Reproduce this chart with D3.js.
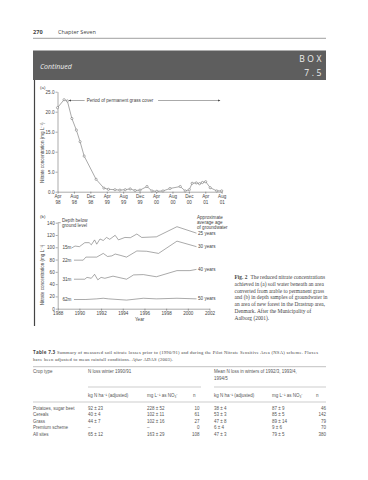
<!DOCTYPE html>
<html lang="en">
<head>
<meta charset="utf-8">
<title>Box 7.5 continued</title>
<script src="https://cdn.jsdelivr.net/npm/d3@7"></script>
<style>
body { margin: 0; background: #fff; }
svg text { font-family: "Liberation Sans", Arial, sans-serif; fill: #444; }
.axis path, .axis line { stroke: #555; stroke-width: 0.5; }
.axis text { font-size: 4.6px; fill: #444; }
.serif { font-family: "Liberation Serif", "DejaVu Serif", serif !important; }
.page { font-family: "Open Sans", "Noto Sans", sans-serif !important; }
</style>
</head>
<body>
<script>
// ---- data (a): soil water, months counted from April 1998
var tickMonths = [0, 4, 8, 12, 16, 20, 24, 28, 32, 36, 40];
var monthLabels = ["Apr", "Aug", "Dec", "Apr", "Aug", "Dec", "Apr", "Aug", "Dec", "Apr", "Aug"];
var yearLabels = ["98", "98", "98", "99", "99", "99", "00", "00", "00", "01", "01"];
var soilTicks = [0, 5, 10, 15, 20, 25];
var soilMonths = [0, 1.6, 2.4, 3.5, 4.6, 5.5, 6.5, 9.4, 11.3, 12.4, 14, 15.2, 16.5, 17.7, 18.9, 20.1, 21.8, 23, 24.2, 25.7, 27.4, 29.9, 31.1, 32.1, 32.8, 33.8, 34.6, 35.3, 36.1, 37.2, 38.8, 40];
var soilNitrate = [21, 23, 22.7, 18.3, 15.4, 12.5, 8.9, 3.1, 0.9, 0.6, 0.5, 0.4, 0.5, 0.7, 0.3, 0.4, 1.3, 0.2, 0.1, 0.2, 0.8, 1.3, 0.2, 0.5, 2.1, 2.2, 2.0, 2.3, 2.5, 1.0, 0.2, 0.2];

// ---- data (b): groundwater by depth
var gwTicksX = [1988, 1990, 1992, 1994, 1996, 1998, 2000, 2002];
var gwTicksY = [0, 20, 40, 60, 80, 100, 120, 140];
var depths = ["15m", "22m", "31m", "62m"];
var ages = ["25 years", "30 years", "40 years", "50 years"];
var years15 = [1989.3, 1989.6, 1990.0, 1990.5, 1990.9, 1991.1, 1991.4, 1991.6, 1991.9, 1992.2, 1992.5, 1992.8, 1993.3, 1993.6, 1994.2, 1994.7, 1995.3, 1995.75, 1997.1, 1999.0, 2000.8];
var gw15 = [99, 102, 101, 107.5, 107.5, 104, 112, 105, 113.5, 111, 116, 113, 119.5, 112, 116, 115.6, 121.6, 116, 117, 133.5, 123];
var years22 = [1989.5, 1990.35, 1990.6, 1991.6, 1992.2, 1992.6, 1993.0, 1993.3, 1993.75, 1994.35, 1995.3, 1996.2, 1997.3, 1999.0, 2000.8];
var gw22 = [79, 79, 84, 84, 90, 85, 86, 89, 87, 84, 94, 93.5, 90, 110, 101];
var years31 = [1989.5, 1990.5, 1990.7, 1991.1, 1991.4, 1991.7, 1992.0, 1992.35, 1993.1, 1994.35, 1995.0, 1995.9, 1997.1, 1999.0, 2000.2, 2000.8];
var gw31 = [48, 48, 51, 49.5, 56, 47, 51, 49.5, 53, 48, 55, 55.5, 52, 62, 62, 64];
var years62 = [1989.5, 1990.6, 1991.6, 1992.2, 1992.7, 1994.35, 1995.9, 1997.1, 1999.0, 2000.8];
var gw62 = [15, 15, 16, 17, 16, 14, 17, 16, 17, 16];

// ---- table 7.3
var crops = ["Potatoes, sugar beet", "Cereals", "Grass", "Premium scheme", "All sites"];
var loss9091 = ["92 ± 23", "40 ± 4", "44 ± 7", "–", "65 ± 12"];
var conc9091 = ["228 ± 52", "102 ± 11", "102 ± 16", "–", "163 ± 29"];
var n9091 = ["10", "61", "27", "0", "108"];
var lossNSA = ["38 ± 4", "53 ± 3", "47 ± 8", "6 ± 4", "47 ± 3"];
var concNSA = ["87 ± 9", "85 ± 5", "89 ± 14", "9 ± 6", "79 ± 5"];
var nNSA = ["46", "142", "79", "70", "380"];

var svg = d3.select("body").append("svg")
    .attr("width", 368)
    .attr("height", 480);

// page header
svg.append("text").attr("class", "page").attr("x", 33).attr("y", 33.5)
    .style("font-size", "5.6px").style("font-weight", "bold").text("270");
svg.append("text").attr("class", "page").attr("x", 58).attr("y", 33.5)
    .style("font-size", "5.6px").text("Chapter Seven");
svg.append("line").attr("x1", 33).attr("x2", 326).attr("y1", 38.3).attr("y2", 38.3)
    .style("stroke", "#888").style("stroke-width", 0.8);

// box header
svg.append("rect").attr("x", 33).attr("y", 50.5).attr("width", 293).attr("height", 29.5)
    .style("fill", "#5e5e5e");
svg.append("text").attr("class", "page").attr("x", 40).attr("y", 68.5)
    .style("font-size", "7px").style("font-style", "italic").style("fill", "#eee").text("Continued");
svg.append("text").attr("class", "page").attr("x", 324).attr("y", 62).attr("text-anchor", "end")
    .style("font-size", "8.5px").style("fill", "#eee").style("letter-spacing", "2.6px").text("BOX");
svg.append("text").attr("class", "page").attr("x", 324).attr("y", 76).attr("text-anchor", "end")
    .style("font-size", "8.5px").style("fill", "#eee").style("letter-spacing", "2.6px").text("7.5");
svg.append("line").attr("x1", 34.5).attr("x2", 34.5).attr("y1", 80).attr("y2", 326)
    .style("stroke", "#444").style("stroke-width", 1.2);

// ---------- chart (a)
var xA = d3.scaleLinear().domain([0, 40]).range([57.5, 221.7]);
var yA = d3.scaleLinear().domain([0, 25]).range([191.7, 91.7]);

svg.append("text").attr("x", 40).attr("y", 89).style("font-size", "4.4px").text("(a)");

svg.append("g").attr("class", "axis").attr("transform", "translate(" + xA(0) + ",0)")
    .call(d3.axisLeft(yA).tickValues(soilTicks).tickFormat(d3.format(".1f")).tickSize(2).tickSizeOuter(0).tickPadding(1));

svg.append("g").attr("class", "axis").attr("transform", "translate(0," + yA(0) + ")")
    .call(d3.axisBottom(xA).tickValues(tickMonths).tickSize(2).tickSizeOuter(0).tickPadding(1.5))
    .selectAll(".tick text").text(null).each(function(d, i) {
        var t = d3.select(this);
        t.append("tspan").attr("x", 0).text(monthLabels[i]);
        t.append("tspan").attr("x", 0).attr("dy", "1.1em").text(yearLabels[i]);
    });

svg.append("text").attr("transform", "translate(44," + (yA(10) + 1) + ") rotate(-90)")
    .attr("text-anchor", "middle").style("font-size", "4.6px").text("Nitrate concentration (mg L⁻¹)");

var soil = soilMonths.map(function(m, i) { return {m: m, v: soilNitrate[i]}; });
svg.append("path").datum(soil)
    .attr("d", d3.line().x(function(d) { return xA(d.m); }).y(function(d) { return yA(d.v); }))
    .style("fill", "none").style("stroke", "#555").style("stroke-width", 0.5);
svg.selectAll(".dot").data(soil).enter().append("circle")
    .attr("class", "dot").attr("r", 1.1)
    .attr("cx", function(d) { return xA(d.m); })
    .attr("cy", function(d) { return yA(d.v); })
    .style("fill", "#fff").style("stroke", "#555").style("stroke-width", 0.45);

// grass cover arrow
var arrowY = yA(22.8);
svg.append("line").attr("x1", xA(2.8)).attr("x2", xA(6.6)).attr("y1", arrowY).attr("y2", arrowY)
    .style("stroke", "#555").style("stroke-width", 0.5);
svg.append("path").attr("d", "M" + xA(2.7) + "," + arrowY + "l2.4,-0.9v1.8z").style("fill", "#444");
svg.append("text").attr("x", xA(7.1)).attr("y", arrowY + 1.6).style("font-size", "4.6px").text("Period of permanent grass cover");
svg.append("line").attr("x1", xA(24.5)).attr("x2", xA(39.5)).attr("y1", arrowY).attr("y2", arrowY)
    .style("stroke", "#555").style("stroke-width", 0.5);
svg.append("path").attr("d", "M" + xA(39.7) + "," + arrowY + "l-2.4,-0.9v1.8z").style("fill", "#444");

// ---------- chart (b)
var xB = d3.scaleLinear().domain([1988, 2002]).range([57.7, 209.5]);
var yB = d3.scaleLinear().domain([0, 140]).range([308.7, 222.7]);

svg.append("text").attr("x", 40).attr("y", 217.5).style("font-size", "4.4px").text("(b)");

svg.append("g").attr("class", "axis").attr("transform", "translate(" + xB(1988) + ",0)")
    .call(d3.axisLeft(yB).tickValues(gwTicksY).tickSize(2).tickSizeOuter(0).tickPadding(1));
svg.append("line").attr("x1", xB(1988)).attr("x2", xB(1988) + 3).attr("y1", yB(140)).attr("y2", yB(140))
    .style("stroke", "#555").style("stroke-width", 0.5);

svg.append("g").attr("class", "axis").attr("transform", "translate(0," + yB(0) + ")")
    .call(d3.axisBottom(xB).tickValues(gwTicksX).tickFormat(d3.format("d")).tickSize(2).tickSizeOuter(0).tickPadding(1.5));

svg.append("text").attr("x", (xB(1988) + xB(2002)) / 2 + 6).attr("y", 321).attr("text-anchor", "middle")
    .style("font-size", "4.6px").text("Year");
svg.append("text").attr("transform", "translate(44," + (yB(55)) + ") rotate(-90)")
    .attr("text-anchor", "middle").style("font-size", "4.6px").text("Nitrate concentration (mg L⁻¹)");

svg.append("text").attr("x", 62).attr("y", 221.6).style("font-size", "4.6px").text("Depth below");
svg.append("text").attr("x", 62).attr("y", 227.4).style("font-size", "4.6px").text("ground level");
["Approximate", "average age", "of groundwater"].forEach(function(s, i) {
    svg.append("text").attr("x", 197).attr("y", 219 + i * 4.8).style("font-size", "4.6px").text(s);
});

var gwSeries = [
    {years: years15, vals: gw15},
    {years: years22, vals: gw22},
    {years: years31, vals: gw31},
    {years: years62, vals: gw62}
];
var gwLine = d3.line().x(function(d) { return xB(d[0]); }).y(function(d) { return yB(d[1]); });
gwSeries.forEach(function(s, k) {
    var pts = s.years.map(function(y, i) { return [y, s.vals[i]]; });
    svg.append("path").datum(pts).attr("d", gwLine)
        .style("fill", "none").style("stroke", "#555").style("stroke-width", 0.5);
    svg.append("text").attr("x", 62.5).attr("y", yB(s.vals[0]) + 1.6)
        .style("font-size", "4.6px").text(depths[k]);
    svg.append("text").attr("x", 198).attr("y", yB(s.vals[s.vals.length - 1]) + 1.6)
        .style("font-size", "4.6px").text(ages[k]);
});

// caption
var caption = [
    "The reduced nitrate concentrations",
    "achieved in (a) soil water beneath an area",
    "converted from arable to permanent grass",
    "and (b) in depth samples of groundwater in",
    "an area of new forest in the Drastrup area,",
    "Denmark. After the Municipality of",
    "Aalborg (2001)."
];
caption.forEach(function(s, i) {
    var t = svg.append("text").attr("class", "serif").attr("x", 234.5).attr("y", 279 + i * 6.8)
        .style("font-size", "5.4px");
    if (i === 0) {
        t.append("tspan").style("font-weight", "bold").text("Fig. 2");
        t.append("tspan").attr("dx", 3).text(s);
    } else {
        t.text(s);
    }
});

// ---------- table 7.3
var tt = svg.append("text").attr("class", "serif").attr("x", 33).attr("y", 353.5)
    .attr("textLength", 285).attr("lengthAdjust", "spacing")
    .style("font-size", "4.6px");
tt.append("tspan").attr("class", "page").style("font-weight", "bold").text("Table 7.3");
tt.append("tspan").text("  Summary of measured soil nitrate losses prior to (1990/91) and during the Pilot Nitrate Sensitive Area (NSA) scheme. Fluxes");
var tt2 = svg.append("text").attr("class", "serif").attr("x", 33).attr("y", 361)
    .attr("textLength", 140).attr("lengthAdjust", "spacing")
    .style("font-size", "4.6px");
tt2.append("tspan").text("have been adjusted to mean rainfall conditions. ");
tt2.append("tspan").style("font-style", "italic").text("After");
tt2.append("tspan").text(" ADAS (2003).");

function rule(x1, x2, y, w) {
    svg.append("line").attr("x1", x1).attr("x2", x2).attr("y1", y).attr("y2", y)
        .style("stroke", "#999").style("stroke-width", w);
}
function cell(x, y, s, anchor) {
    svg.append("text").attr("x", x).attr("y", y).attr("text-anchor", anchor || "start")
        .style("font-size", "4.5px").style("fill", "#555").text(s);
}
rule(33, 326, 366.7, 0.6);
cell(33, 373, "Crop type");
cell(88, 373, "N loss winter 1990/91");
cell(214, 373, "Mean N loss in winters of 1992/3, 1993/4,");
cell(214, 379.5, "1994/5");
rule(88, 201, 387, 0.5);
rule(214, 326, 387, 0.5);
cell(88, 397, "kg N ha⁻¹ (adjusted)");
cell(147, 397, "mg L⁻¹ as NO₃⁻");
cell(193, 397, "n");
cell(214, 397, "kg N ha⁻¹ (adjusted)");
cell(272, 397, "mg L⁻¹ as NO₃⁻");
cell(316, 397, "n");
rule(33, 326, 402, 0.5);

crops.forEach(function(c, i) {
    var y = 410 + i * 6.4;
    cell(33, y, c);
    cell(88, y, loss9091[i]);
    cell(147, y, conc9091[i]);
    cell(199.5, y, n9091[i], "end");
    cell(214, y, lossNSA[i]);
    cell(272, y, concNSA[i]);
    cell(326, y, nNSA[i], "end");
});
</script>
</body>
</html>
